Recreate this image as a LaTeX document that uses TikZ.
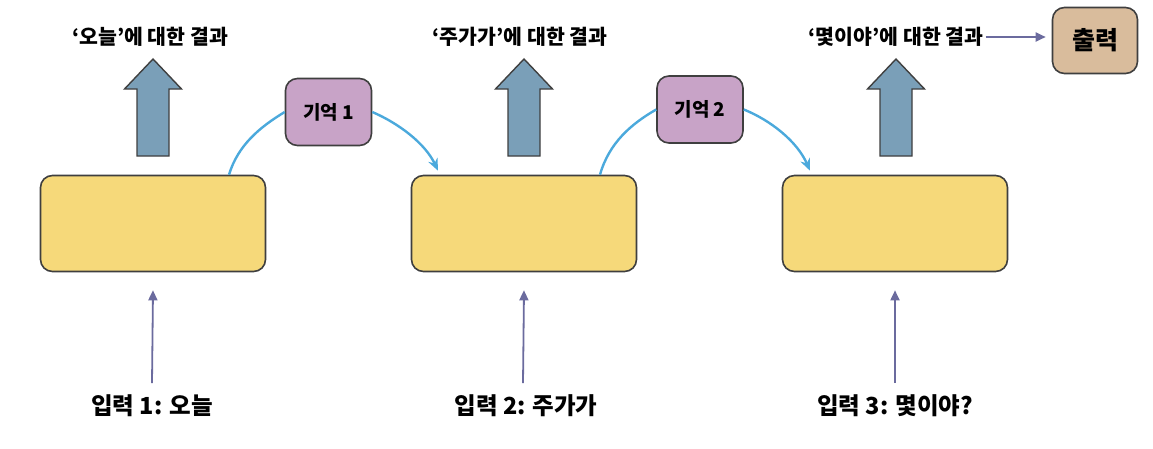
\documentclass[tikz,border=0pt]{standalone}
\usepackage{fontspec}
\setmainfont{Noto Sans CJK KR}
\usetikzlibrary{arrows.meta}
\definecolor{rnnfill}{HTML}{F6D97A}
\definecolor{arrfill}{HTML}{7A9FB8}
\definecolor{memfill}{HTML}{C8A3C7}
\definecolor{outfill}{HTML}{D9BC9C}
\definecolor{curvecol}{HTML}{4BA9DC}
\definecolor{inpcol}{HTML}{6B6B9E}
\definecolor{edgecol}{HTML}{3F3F3F}
\tikzset{
  rnnbox/.style={draw=edgecol, line width=1.6pt, fill=rnnfill, rounded corners=12pt, minimum width=225pt, minimum height=96pt, inner sep=0pt},
  membox/.style={draw=edgecol, line width=1.6pt, fill=memfill, rounded corners=12pt, minimum width=86pt, minimum height=67pt, inner sep=0pt, font=\bfseries\fontsize{19}{22}\selectfont},
  outbox/.style={draw=edgecol, line width=1.6pt, fill=outfill, rounded corners=12pt, minimum width=85pt, minimum height=66pt, inner sep=0pt, font=\bfseries\fontsize{25}{28}\selectfont},
  bigarr/.style={draw=edgecol, line width=1.4pt, fill=arrfill, line join=miter},
  toplab/.style={font=\bfseries\fontsize{20.5}{24}\selectfont, inner sep=2pt},
  botlab/.style={font=\bfseries\fontsize{23.5}{28}\selectfont, inner sep=2pt},
  curvearr/.style={draw=curvecol, line width=2.4pt, -{Stealth[length=12pt,width=10pt]}},
  curveline/.style={draw=curvecol, line width=2.4pt},
  inparr/.style={draw=inpcol, line width=1.8pt, -{Triangle[length=10pt,width=9pt]}},
}
\begin{document}
\begin{tikzpicture}[x=1pt,y=-1pt]
\useasboundingbox (0,0) rectangle (1153,448);
% recurrent cells
\node[rnnbox] (b1) at (153,223.5) {};
\node[rnnbox] (b2) at (524,223.5) {};
\node[rnnbox] (b3) at (895,223.5) {};
% memories
\node[membox] (m1) at (328.5,112) {기억 1};
\node[membox] (m2) at (700,109.5) {기억 2};
% output
\node[outbox] (out) at (1095,40.5) {출력};
% top labels
\node[toplab] (t1) at (150,37) {‘오늘’에 대한 결과};
\node[toplab] (t2) at (520,37) {‘주가가’에 대한 결과};
\node[toplab] (t3) at (896,37) {‘몇이야’에 대한 결과};
% bottom labels
\node[botlab] (i1) at (152,406) {입력 1: 오늘};
\node[botlab] (i2) at (526,406) {입력 2: 주가가};
\node[botlab] (i3) at (895,406) {입력 3: 몇이야?};
% big output arrows
\foreach \cx in {153,524,896}
  \draw[bigarr] (\cx-16,156) -- (\cx-16,89) -- (\cx-28.5,89) -- (\cx,59)
     -- (\cx+28.5,89) -- (\cx+16,89) -- (\cx+16,156) -- cycle;
% memory curves
\draw[curveline] ([xshift=76pt]b1.north) .. controls (238,145) and (260,127) .. (m1.west);
\draw[curvearr] (m1.east) .. controls (398,123) and (425,143) .. ([xshift=-86pt,yshift=4pt]b2.north);
\draw[curveline] ([xshift=76pt]b2.north) .. controls (609,143) and (631,124) .. (m2.west);
\draw[curvearr] (m2.east) .. controls (770,120) and (797,141) .. ([xshift=-85pt,yshift=4pt]b3.north);
% input arrows
\coordinate (e1) at ([yshift=-18pt]b1.south);
\coordinate (e2) at ([yshift=-18pt]b2.south);
\coordinate (e3) at ([yshift=-18pt]b3.south);
\draw[inparr] (152,383) -- (e1);
\draw[inparr] (523,383) -- (e2);
\draw[inparr] (895,383) -- (e3);
% output arrow
\draw[inparr, shorten >=6pt] (t3.east) -- (t3.east -| out.west);
\end{tikzpicture}
\end{document}
